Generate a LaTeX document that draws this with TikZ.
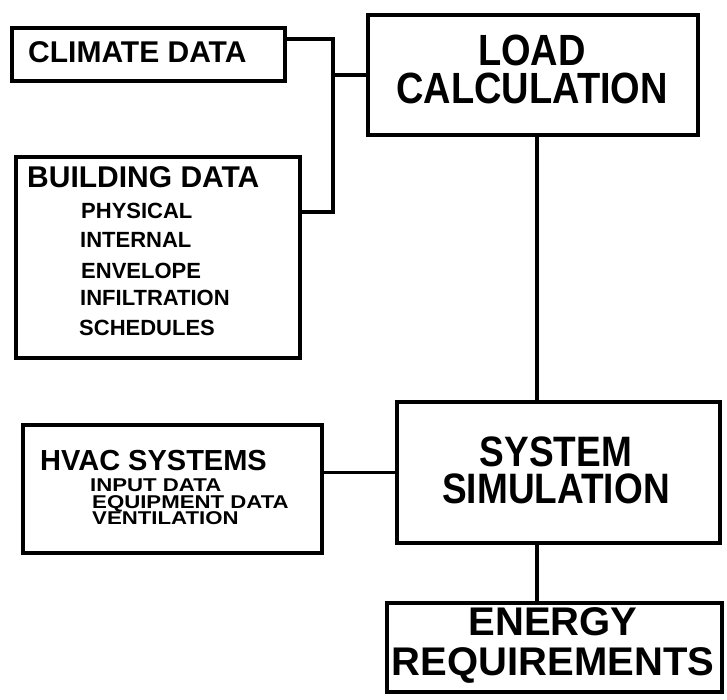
\documentclass[tikz,border=0pt]{standalone}
\usepackage{fontspec}
\setmainfont{Liberation Sans}
\usetikzlibrary{positioning}

\newcommand{\tallline}[1]{\scalebox{1}[1.15]{#1}}
\newcommand{\wideline}[1]{\scalebox{1.2}[1]{#1}}

\begin{document}
\begin{tikzpicture}[
    x=1pt, y=-1pt,
    box/.style={draw, line width=3.5pt, inner sep=0pt},
    wire/.style={line width=3.5pt, line cap=round},
    head/.style={font=\fontsize{30}{30}\selectfont\bfseries, anchor=base west, inner sep=0pt},
    item/.style={font=\fontsize{22}{22}\selectfont\bfseries, anchor=base west, inner sep=0pt},
    small/.style={font=\fontsize{18.5}{18.5}\selectfont\bfseries, anchor=base west, inner sep=0pt},
    big/.style={font=\fontsize{#1}{#1}\selectfont\bfseries, align=center, anchor=base, inner sep=0pt},
    big/.default=38
]
    \useasboundingbox (0,0) rectangle (727,699);

    % Input boxes
    \node[box, minimum width=273pt, minimum height=53pt] (climate) at (148.5,54.5) {};
    \node[head] (climatetxt) at (28,62) {CLIMATE DATA};

    \node[box, minimum width=284pt, minimum height=201pt] (building) at (158,257.5) {};
    \node[head] (buildingtxt) at (27,187) {BUILDING DATA};
    \node[item] (physical) at (81,218) {PHYSICAL};
    \node[item] (internal) at (80,247) {INTERNAL};
    \node[item] (envelope) at (81,278) {ENVELOPE};
    \node[item] (infiltration) at (80,305) {INFILTRATION};
    \node[item] (schedules) at (79,335) {SCHEDULES};

    \node[box, minimum width=299pt, minimum height=128pt] (hvac) at (172.5,489) {};
    \node[head, font=\fontsize{29}{29}\selectfont\bfseries] (hvactxt) at (40,470) {HVAC SYSTEMS};
    \node[small] (inputdata) at (90,491.5) {\wideline{INPUT DATA}};
    \node[small] (equipment) at (92,508) {\wideline{EQUIPMENT DATA}};
    \node[small] (ventilation) at (92,524) {\wideline{VENTILATION}};

    % Calculation boxes
    \node[box, minimum width=330pt, minimum height=120pt] (load) at (533,75) {};
    \node[big] (loadtxt) at (532,103) {\tallline{LOAD}\\\tallline{CALCULATION}};

    \node[box, minimum width=323pt, minimum height=141pt] (sys) at (558.5,472.5) {};
    \node[big=37] (systxt) at (556,503) {\tallline{SYSTEM}\\\tallline{SIMULATION}};

    \node[box, minimum width=335pt, minimum height=89pt] (energy) at (554.5,647.5) {};
    \node[big=40] (energytxt) at (553,675) {ENERGY\\REQUIREMENTS};

    % Connectors
    \coordinate (bustop) at (333,39);
    \coordinate (busbot) at (333,212);
    \coordinate (spine) at (537,0);
    \draw[wire] (climate.east |- bustop) -- (bustop) -- (busbot) -- (building.east |- busbot);
    \draw[wire] (load.west -| bustop) -- (load.west);
    \draw[wire] (load.south -| spine) -- (sys.north -| spine);
    \draw[wire] (sys.west -| hvac.east) -- (sys.west);
    \draw[wire] (sys.south -| spine) -- (energy.north -| spine);
\end{tikzpicture}
\end{document}
